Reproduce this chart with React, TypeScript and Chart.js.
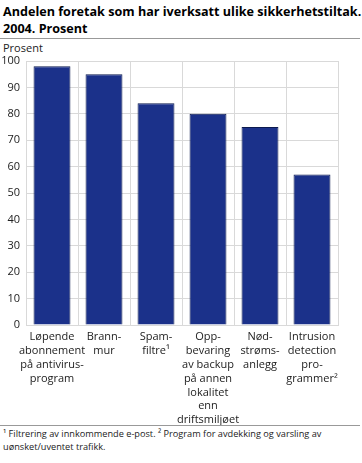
import React, { useEffect, useRef } from "react";
import { Chart, registerables } from "chart.js";

Chart.register(...registerables);

const categories: string[][] = [
  ["Løpende", "abonnement", "på antivirus-", "program"],
  ["Brann-", "mur"],
  ["Spam-", "filtre¹"],
  ["Opp-", "bevaring", "av backup", "på annen", "lokalitet", "enn", "driftsmiljøet"],
  ["Nød-", "strøms-", "anlegg"],
  ["Intrusion", "detection", "pro-", "grammer²"],
];
const values: number[] = [98, 95, 84, 80, 75, 57];
const yTicks: number[] = [0, 10, 20, 30, 40, 50, 60, 70, 80, 90, 100];

const FONT = "'Open Sans', 'Noto Sans', sans-serif";

export default function App() {
  const ref = useRef<HTMLCanvasElement>(null);
  useEffect(() => {
    if (!ref.current) return;
    const chart = new Chart(ref.current, {
      type: "bar",
      data: {
        labels: categories,
        datasets: [
          {
            data: values,
            backgroundColor: "#1b318a",
            borderColor: "#0c1a4f",
            borderWidth: 1,
            barPercentage: 0.71,
            categoryPercentage: 1,
          },
        ],
      },
      options: {
        animation: false,
        responsive: false,
        maintainAspectRatio: false,
        layout: { padding: { top: 21, right: 24, left: 0, bottom: 0 } },
        plugins: { legend: { display: false }, tooltip: { enabled: false } },
        scales: {
          x: {
            grid: { color: "#d9d9d9", drawTicks: false, offset: true },
            border: { color: "#d9d9d9" },
            ticks: {
              autoSkip: false,
              maxRotation: 0,
              minRotation: 0,
              padding: 5,
              color: "#222",
              font: { family: FONT, size: 11, lineHeight: 1.26 },
            },
            afterFit: (s: any) => {
              s.height = 100;
            },
          },
          y: {
            min: 0,
            max: 100,
            afterBuildTicks: (s: any) => {
              s.ticks = yTicks.map((v) => ({ value: v }));
            },
            grid: { color: "#d9d9d9", drawTicks: false },
            border: { color: "#d9d9d9" },
            ticks: {
              padding: 6,
              color: "#222",
              font: { family: FONT, size: 11 },
            },
            afterFit: (s: any) => {
              s.width = 26;
            },
          },
        },
      },
    });
    return () => chart.destroy();
  }, []);

  return (
    <div
      style={{
        position: "absolute",
        left: 0,
        top: 0,
        width: 362,
        height: 463,
        background: "#fff",
        fontFamily: FONT,
        color: "#000",
      }}
    >
      <div
        style={{
          position: "absolute",
          left: 3,
          top: 3,
          fontWeight: 700,
          fontSize: 12.6,
          lineHeight: "17px",
          whiteSpace: "nowrap",
        }}
      >
        Andelen foretak som har iverksatt ulike sikkerhetstiltak.
        <br />
        2004. Prosent
      </div>
      <div
        style={{
          position: "absolute",
          left: 0,
          top: 38,
          width: 360,
          height: 1,
          background: "#999",
        }}
      />
      <div
        style={{
          position: "absolute",
          left: 3,
          top: 41,
          fontSize: 11,
          lineHeight: "14px",
          color: "#222",
        }}
      >
        Prosent
      </div>
      <canvas
        ref={ref}
        width={362}
        height={385}
        style={{ position: "absolute", left: 0, top: 40, width: 362, height: 385 }}
      />
      <div
        style={{
          position: "absolute",
          left: 0,
          top: 425,
          width: 360,
          height: 1,
          background: "#999",
        }}
      />
      <div
        style={{
          position: "absolute",
          left: 3,
          top: 427,
          width: 358,
          fontSize: 9.2,
          lineHeight: "13px",
          color: "#222",
        }}
      >
        ¹ Filtrering av innkommende e-post. ² Program for avdekking og varsling av
        <br />
        uønsket/uventet trafikk.
      </div>
    </div>
  );
}
